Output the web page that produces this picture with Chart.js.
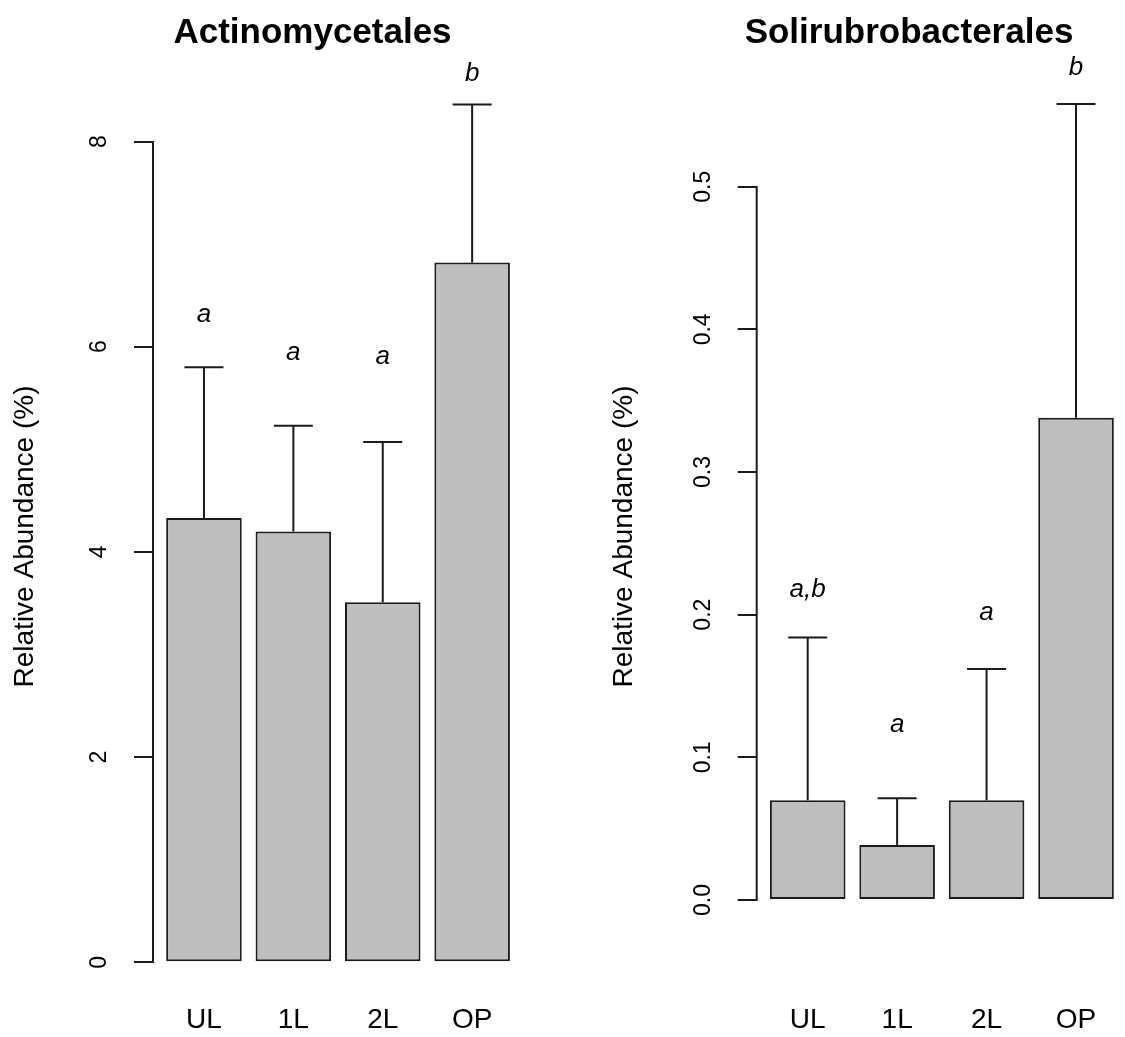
<!DOCTYPE html>
<html><head><meta charset="utf-8">
<script src="https://cdn.jsdelivr.net/npm/chart.js@4.4.1/dist/chart.umd.min.js"></script>
<style>
html,body{margin:0;padding:0;background:#fff;overflow:hidden;}
#wrap{position:relative;width:1125px;height:1037px;overflow:hidden;background:#fff;}
canvas{position:absolute;top:0;}
</style></head><body>
<div id="wrap">
<canvas id="c1" width="562" height="1037" style="left:0;width:562px;height:1037px"></canvas>
<canvas id="c2" width="565" height="1037" style="left:562px;width:565px;height:1037px"></canvas>
</div>
<script>
// ---- data ----
const categories = ['UL', '1L', '2L', 'OP'];

const actinoMeans   = [4.33, 4.20, 3.51, 6.82];
const actinoUpper   = [5.80, 5.23, 5.07, 8.36];
const actinoLetters = ['a', 'a', 'a', 'b'];
const actinoLetterY = [6.33, 5.96, 5.92, 8.68];
const actinoTicks   = [0, 2, 4, 6, 8];

const soliMeans   = [0.070, 0.0386, 0.070, 0.338];
const soliUpper   = [0.184, 0.0713, 0.162, 0.558];
const soliLetters = ['a,b', 'a', 'a', 'b'];
const soliLetterY = [0.219, 0.124, 0.203, 0.585];
const soliTicks   = [0, 0.1, 0.2, 0.3, 0.4, 0.5];

// ---- styling ----
const INK = '#1b1b1b';
const FILL = '#bebebe';
const FONT = "'Liberation Sans', Arial, sans-serif";

// R barplot convention: bar width 1, space 0.2 -> midpoints 0.7, 1.9, ...
const mid = i => 0.7 + 1.2 * i;

const annotPlugin = {
  id: 'annot',
  afterDraw(chart) {
    const o = chart.options.plugins.annot;
    const ctx = chart.ctx, ys = chart.scales.y, area = chart.chartArea;
    const meta = chart.getDatasetMeta(0);
    ctx.save();
    ctx.strokeStyle = INK; ctx.lineWidth = 2; ctx.lineCap = 'butt';
    // y axis line from first to last tick
    const ax = area.left;
    ctx.beginPath();
    ctx.moveTo(ax, Math.round(ys.getPixelForValue(o.ticks[0])) + 1);
    ctx.lineTo(ax, Math.round(ys.getPixelForValue(o.ticks[o.ticks.length - 1])) - 1);
    ctx.stroke();
    // rotated tick labels
    ctx.fillStyle = '#000';
    ctx.font = '23px ' + FONT;
    ctx.textAlign = 'center'; ctx.textBaseline = 'middle';
    o.ticks.forEach(v => {
      ctx.save();
      ctx.translate(ax - 53, ys.getPixelForValue(v));
      ctx.rotate(-Math.PI / 2);
      ctx.fillText(v.toFixed(o.digits), 0, 0);
      ctx.restore();
    });
    // error bars (upper only)
    meta.data.forEach((bar, i) => {
      const yt = ys.getPixelForValue(o.upper[i]);
      ctx.beginPath();
      ctx.moveTo(bar.x, bar.y);
      ctx.lineTo(bar.x, yt);
      ctx.moveTo(bar.x - 19.5, yt);
      ctx.lineTo(bar.x + 19.5, yt);
      ctx.stroke();
    });
    // significance letters
    ctx.font = 'italic 26px ' + FONT;
    ctx.textBaseline = 'alphabetic';
    meta.data.forEach((bar, i) => {
      ctx.fillText(o.letters[i], bar.x, ys.getPixelForValue(o.letterY[i]) + 0.358 * 26);
    });
    // main title
    ctx.font = 'bold 35px ' + FONT;
    ctx.fillText(o.title, o.titleX, 43);
    ctx.restore();
  }
};

function makeChart(id, c) {
  return new Chart(document.getElementById(id), {
    type: 'bar',
    data: {
      datasets: [{
        data: c.means.map((v, i) => ({ x: mid(i), y: v })),
        backgroundColor: FILL,
        borderColor: INK,
        borderWidth: 2,
        borderSkipped: false,
        categoryPercentage: 1,
        barPercentage: 0.845
      }]
    },
    options: {
      responsive: false,
      animation: false,
      devicePixelRatio: 1,
      layout: { padding: { left: 0, right: c.padRight, top: 78, bottom: 0 } },
      plugins: {
        legend: { display: false },
        tooltip: { enabled: false },
        annot: {
          ticks: c.ticks, digits: c.digits, upper: c.upper,
          letters: c.letters, letterY: c.letterY, title: c.title, titleX: c.titleX
        }
      },
      scales: {
        x: {
          type: 'linear', position: 'bottom', offset: false,
          min: 0.016, max: 4.984,
          grid: { display: false, drawTicks: false },
          border: { display: false },
          afterBuildTicks: s => { s.ticks = categories.map((_, i) => ({ value: mid(i) })); },
          afterFit: s => { s.height = 42; },
          ticks: {
            autoSkip: false, maxRotation: 0, minRotation: 0, padding: 8,
            color: '#000', font: { family: FONT, size: 28 },
            callback: (v, i) => categories[i]
          }
        },
        y: {
          type: 'linear', min: c.yMin, max: c.yMax,
          afterBuildTicks: s => { s.ticks = c.ticks.map(v => ({ value: v })); },
          afterFit: s => { s.width = c.axisWidth; },
          grid: { display: true, drawOnChartArea: false, drawTicks: true, tickLength: 19, lineWidth: 2, color: INK },
          border: { display: false },
          ticks: { display: false },
          title: {
            display: true, text: 'Relative Abundance (%)', color: '#000',
            font: { family: FONT, size: 28 }, padding: { top: c.titlePad, bottom: 0 }
          }
        }
      }
    },
    plugins: [annotPlugin]
  });
}

makeChart('c1', {
  means: actinoMeans, upper: actinoUpper, letters: actinoLetters, letterY: actinoLetterY,
  ticks: actinoTicks, digits: 0, title: 'Actinomycetales', titleX: 312.5,
  yMin: -0.3187, yMax: 8.619, axisWidth: 153, padRight: 38.9, titlePad: 8
});
makeChart('c2', {
  means: soliMeans, upper: soliUpper, letters: soliLetters, letterY: soliLetterY,
  ticks: soliTicks, digits: 1, title: 'Solirubrobacterales', titleX: 347,
  yMin: -0.0666, yMax: 0.5762, axisWidth: 194.7, padRight: 0, titlePad: 45
});
</script>
</body></html>
